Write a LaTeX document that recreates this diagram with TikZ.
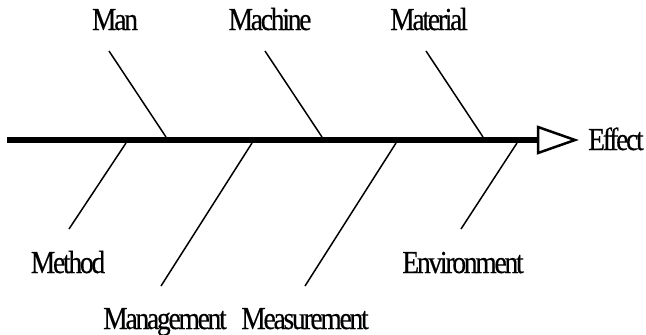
\documentclass[tikz,border=0pt]{standalone}
\usepackage{fontspec}
\setmainfont{Liberation Serif}[FakeStretch=0.86,LetterSpace=-7,FakeBold=0.4]
\usetikzlibrary{positioning,calc}

\begin{document}
\begin{tikzpicture}[x=1pt,y=-1pt,
  lbl/.style={font=\fontsize{32}{38}\selectfont,inner sep=0pt,anchor=base},
  bone/.style={line width=1.5pt}]
\useasboundingbox (0,0) rectangle (646,335);
% spine and head
\coordinate (tail) at (7,140);
\coordinate (head) at (538,140);
\coordinate (tip) at (575,140);
\draw[line width=6pt] (tail)--(head);
\draw[line width=2.5pt,line join=miter,fill=white] ($(head)+(0,-13)$)--(tip)--($(head)+(0,13)$)--cycle;
\node[lbl,anchor=base west] (effect) at (588,150) {Effect};
% upper bones
\foreach \name/\xt/\xs in {man/109/166,machine/265/322,material/426/483}{
  \coordinate (\name-top) at (\xt,51);
  \coordinate (\name-foot) at (\xs,137);
  \draw[bone] (\name-top)--(\name-foot);
}
% lower bones
\foreach \name/\xs/\xb/\yb in {method/126/69/229,management/252/161/286,measurement/396/305/286,environment/517/461/229}{
  \coordinate (\name-foot) at (\xs,143);
  \coordinate (\name-end) at (\xb,\yb);
  \draw[bone] (\name-foot)--(\name-end);
}
% causes
\node[lbl] (man) at (115,30) {Man};
\node[lbl] (machine) at (270,30) {Machine};
\node[lbl] (material) at (429,30) {Material};
\node[lbl] (method) at (68,273) {Method};
\node[lbl] (environment) at (463,273) {Environment};
\node[lbl] (management) at (165,329) {Management};
\node[lbl] (measurement) at (305,329) {Measurement};
\end{tikzpicture}
\end{document}
